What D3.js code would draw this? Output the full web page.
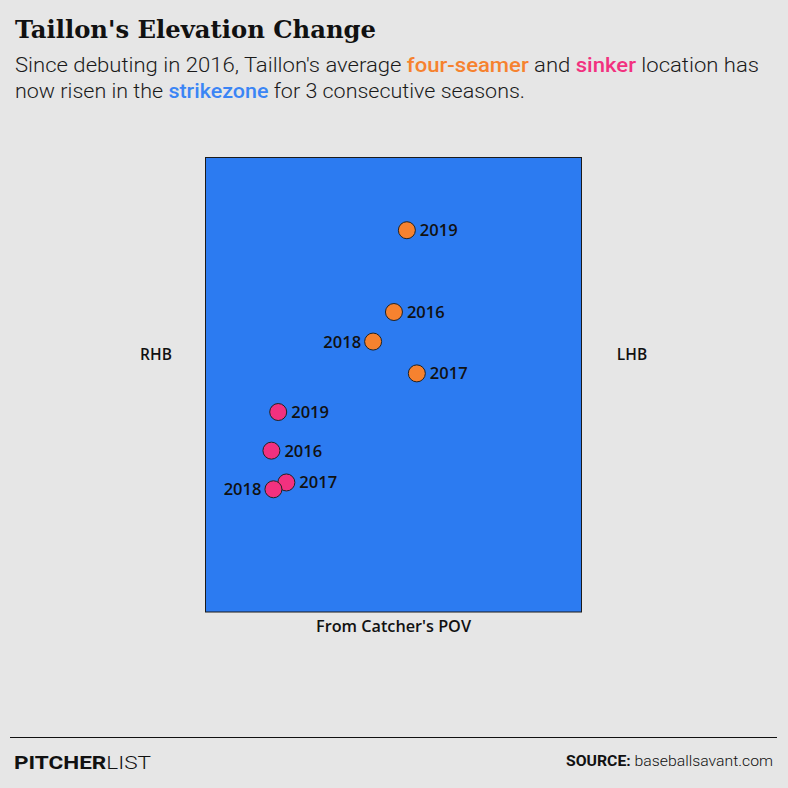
<!DOCTYPE html>
<html>
<head>
<meta charset="utf-8">
<script src="https://cdn.jsdelivr.net/npm/d3@7"></script>
<style>
  body { margin: 0; background: #e6e6e6; }
  svg { display: block; }
</style>
</head>
<body>
<svg id="chart" width="788" height="788"></svg>
<script>
// Average pitch locations (plate_x, plate_z in feet, catcher's view)
const years = ["2016", "2017", "2018", "2019"];
const fastball_x = [0.002, 0.103, -0.090, 0.059],
    fastball_z = [2.82, 2.55, 2.69, 3.18];
const sinker_x = [-0.539, -0.473, -0.530, -0.509],
    sinker_z = [2.21, 2.07, 2.04, 2.38];
// which side each year label goes on
const fastball_side = ["right", "right", "left", "right"],
    sinker_side = ["right", "right", "left", "right"];

const zone_x = [-0.83, 0.83],
    zone_z = [1.5, 3.5];

// Colors
const bg = "#e6e6e6",
    zone_blue = "#2c7bf1",
    fb_orange = "#f6822f",
    si_pink = "#f2317f",
    txt_blue = "#3b85f5";

const svg = d3.select("#chart");

svg.append("rect").attr("width", 788).attr("height", 788).attr("fill", bg);

// Scales
const x = d3.scaleLinear().domain(zone_x).range([205.5, 581.5]);
const y = d3.scaleLinear().domain(zone_z).range([612, 157.5]);

// Title + subtitle
svg.append("text")
    .attr("x", 15).attr("y", 38)
    .attr("font-family", "'DejaVu Serif', serif")
    .attr("font-weight", "bold")
    .attr("font-size", 24.5)
    .attr("textLength", 361)
    .attr("lengthAdjust", "spacingAndGlyphs")
    .attr("fill", "#111")
    .text("Taillon's Elevation Change");

const sub = svg.append("g")
    .attr("font-family", "Roboto, sans-serif")
    .attr("font-weight", 300)
    .attr("font-size", 20.5)
    .attr("fill", "#1a1a1a");

const line1 = sub.append("text").attr("x", 15).attr("y", 72)
    .attr("textLength", 744).attr("lengthAdjust", "spacingAndGlyphs");
line1.append("tspan").text("Since debuting in 2016, Taillon's average ");
line1.append("tspan").attr("fill", fb_orange).attr("font-weight", 500).text("four-seamer");
line1.append("tspan").text(" and ");
line1.append("tspan").attr("fill", si_pink).attr("font-weight", 500).text("sinker");
line1.append("tspan").text(" location has");

const line2 = sub.append("text").attr("x", 15).attr("y", 98)
    .attr("textLength", 510).attr("lengthAdjust", "spacingAndGlyphs");
line2.append("tspan").text("now risen in the ");
line2.append("tspan").attr("fill", txt_blue).attr("font-weight", 500).text("strikezone");
line2.append("tspan").text(" for 3 consecutive seasons.");

// Strike zone
svg.append("rect")
    .attr("x", x(zone_x[0])).attr("y", y(zone_z[1]))
    .attr("width", x(zone_x[1]) - x(zone_x[0]))
    .attr("height", y(zone_z[0]) - y(zone_z[1]))
    .attr("fill", zone_blue)
    .attr("stroke", "#1b1b1b")
    .attr("stroke-width", 1);

// Side labels
const lab = svg.append("g")
    .attr("font-family", "'Open Sans', sans-serif")
    .attr("font-weight", 600)
    .attr("font-size", 15.5)
    .attr("fill", "#111")
    .attr("text-anchor", "middle");
lab.append("text").attr("x", 156).attr("y", 360).text("RHB");
lab.append("text").attr("x", 632).attr("y", 360).text("LHB");
lab.append("text").attr("x", (x(zone_x[0]) + x(zone_x[1])) / 2).attr("y", 632)
    .attr("textLength", 155).attr("lengthAdjust", "spacingAndGlyphs")
    .text("From Catcher's POV");

// Points
function draw_pitch(xs, zs, sides, color, cls) {
    const data = years.map((yr, i) => ({year: yr, px: xs[i], pz: zs[i], side: sides[i]}));
    const g = svg.append("g").attr("class", cls);

    g.selectAll("circle")
        .data(data)
        .enter().append("circle")
            .attr("cx", d => x(d.px))
            .attr("cy", d => y(d.pz))
            .attr("r", 8.5)
            .attr("fill", color)
            .attr("stroke", "#222")
            .attr("stroke-width", 1);

    g.selectAll("text")
        .data(data)
        .enter().append("text")
            .attr("x", d => d.side === "right" ? x(d.px) + 13 : x(d.px) - 12)
            .attr("y", d => y(d.pz) + 6)
            .attr("text-anchor", d => d.side === "right" ? "start" : "end")
            .attr("font-family", "'Open Sans', sans-serif")
            .attr("font-weight", 600)
            .attr("font-size", 16.5)
            .attr("fill", "#111")
            .text(d => d.year);
}

draw_pitch(fastball_x, fastball_z, fastball_side, fb_orange, "fastball");
draw_pitch(sinker_x, sinker_z, sinker_side, si_pink, "sinker");

// Footer
svg.append("line")
    .attr("x1", 10).attr("x2", 777)
    .attr("y1", 737.5).attr("y2", 737.5)
    .attr("stroke", "#111").attr("stroke-width", 1);

const logo = svg.append("text")
    .attr("x", 14).attr("y", 769)
    .attr("font-family", "Roboto, sans-serif")
    .attr("font-size", 19)
    .attr("fill", "#111")
    .attr("textLength", 137).attr("lengthAdjust", "spacingAndGlyphs");
logo.append("tspan").attr("font-weight", 700).text("PITCHER");
logo.append("tspan").attr("font-weight", 300).text("LIST");

const src = svg.append("text")
    .attr("x", 773).attr("y", 766)
    .attr("text-anchor", "end")
    .attr("font-family", "Roboto, sans-serif")
    .attr("font-size", 15)
    .attr("fill", "#111")
    .attr("textLength", 207).attr("lengthAdjust", "spacingAndGlyphs");
src.append("tspan").attr("font-weight", 700).text("SOURCE: ");
src.append("tspan").attr("font-weight", 300).text("baseballsavant.com");
</script>
</body>
</html>
